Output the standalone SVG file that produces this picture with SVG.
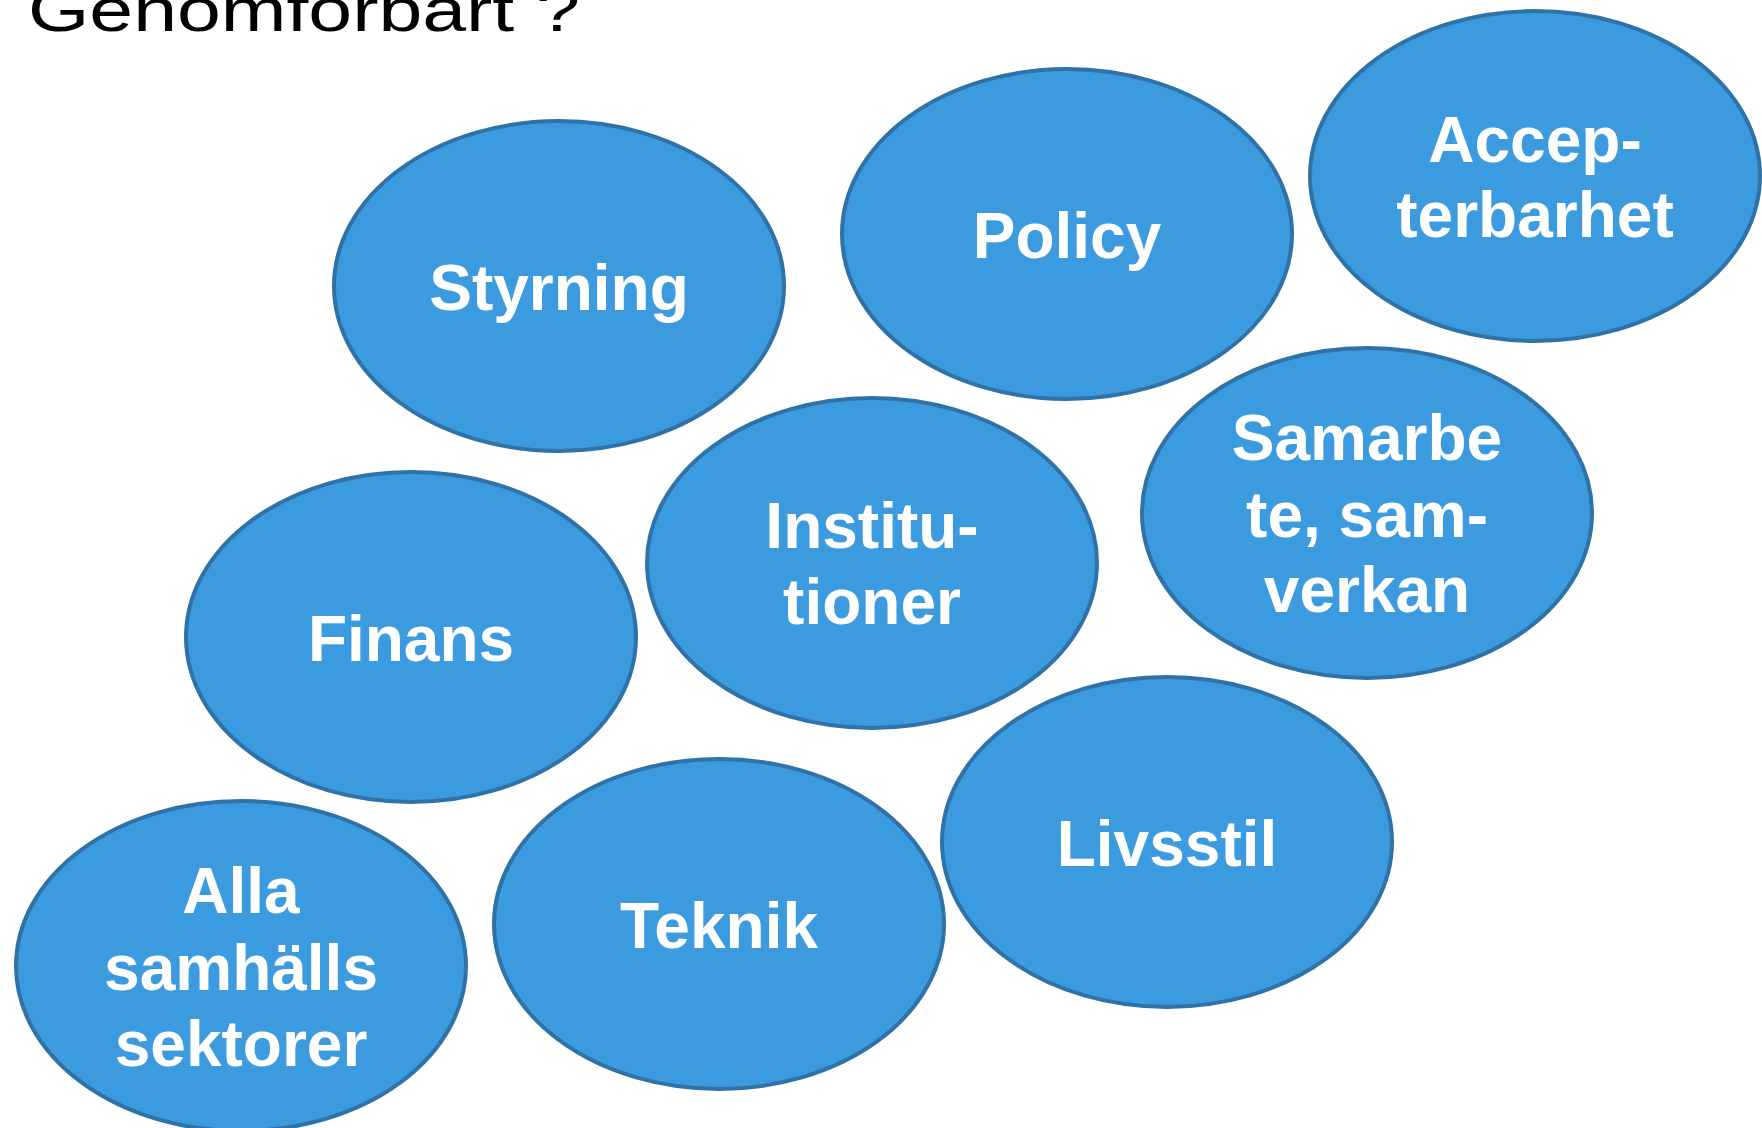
<svg xmlns="http://www.w3.org/2000/svg" width="1762" height="1128" viewBox="0 0 1762 1128">
<style>
.n ellipse{fill:#3C9BDF;stroke:#2E72A8;stroke-width:4}
.n text{font-family:"Liberation Sans",Arial,sans-serif;font-weight:bold;font-size:64px;fill:#FFFFFF;text-anchor:middle}
.title{font-family:"Liberation Sans",Arial,sans-serif;font-size:62px;fill:#000000}
</style>
<rect width="1762" height="1128" fill="#FFFFFF"/>
<text class="title" x="28" y="31" textLength="552" lengthAdjust="spacingAndGlyphs">Genomförbart ?</text>
<g id="connectors"/>
<g id="styrning" class="n"><ellipse cx="559" cy="286" rx="225" ry="165"/><text x="559" y="310">Styrning</text></g>
<g id="policy" class="n"><ellipse cx="1067" cy="234" rx="225" ry="165"/><text x="1067" y="258">Policy</text></g>
<g id="accepterbarhet" class="n"><ellipse cx="1535" cy="176" rx="225" ry="165"/><text x="1535" y="162">Accep-</text><text x="1535" y="237">terbarhet</text></g>
<g id="samarbete" class="n"><ellipse cx="1367" cy="513" rx="225" ry="165"/><text x="1367" y="460">Samarbe</text><text x="1367" y="537">te, sam-</text><text x="1367" y="612">verkan</text></g>
<g id="institutioner" class="n"><ellipse cx="872" cy="563" rx="225" ry="165"/><text x="872" y="548">Institu-</text><text x="872" y="624">tioner</text></g>
<g id="finans" class="n"><ellipse cx="411" cy="637" rx="225" ry="165"/><text x="411" y="661">Finans</text></g>
<g id="livsstil" class="n"><ellipse cx="1167" cy="842" rx="225" ry="165"/><text x="1167" y="866">Livsstil</text></g>
<g id="teknik" class="n"><ellipse cx="719" cy="924" rx="225" ry="165"/><text x="719" y="948">Teknik</text></g>
<g id="alla" class="n"><ellipse cx="241" cy="966" rx="225" ry="165"/><text x="241" y="913">Alla</text><text x="241" y="990">samhälls</text><text x="241" y="1066">sektorer</text></g>
</svg>
